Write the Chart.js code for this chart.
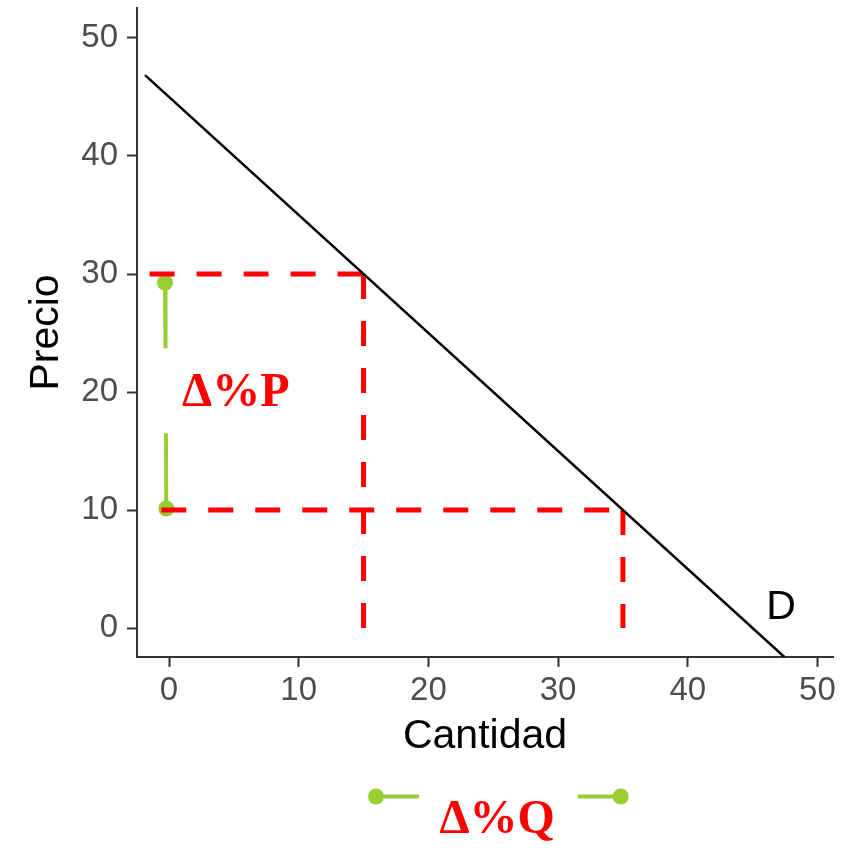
<!DOCTYPE html>
<html>
<head>
<meta charset="utf-8">
<script src="https://cdn.jsdelivr.net/npm/chart.js@4.4.1/dist/chart.umd.min.js"></script>
<style>
  html, body { margin: 0; padding: 0; background: #ffffff; }
  canvas { display: block; }
</style>
</head>
<body>
<canvas id="demandChart" width="846" height="848"></canvas>
<script>
// datos de la curva de demanda
const demandQ = [-1.85, 47.45];
const demandP = [46.85, -2.45];

// lineas punteadas rojas (precio 30 y 10)
const dashTopQ = [-1.5, 15];
const dashTopP = [30, 30];
const dashLeftQ = [15, 15];
const dashLeftP = [30, 0];
const dashLowQ = [-0.6, 35];
const dashLowP = [10, 10];
const dashRightQ = [35, 35];
const dashRightP = [10, 0];

// flechas verdes
const arrowPUpQ = [-0.31, -0.27];
const arrowPUpP = [29.27, 23.7];
const arrowPDownQ = [-0.24, -0.21];
const arrowPDownP = [16.5, 10.13];
const arrowQLeftQ = [15.96, 19.28];
const arrowQRightQ = [31.53, 34.83];
const arrowQP = [-14.27, -14.27];

// etiquetas
const labelText = ["Δ%P", "Δ%Q", "D"];
const labelQ = [5.15, 25.3, 47.2];
const labelP = [19.9, -16.3, 1.75];

const xTicks = [0, 10, 20, 30, 40, 50];
const yTicks = [0, 10, 20, 30, 40, 50];

const RED = "#FF0000";
const GREEN = "#9ACD32";

function toPoints(xs, ys) {
  return xs.map((x, i) => ({ x: x, y: ys[i] }));
}

function dashed(xs, ys) {
  return {
    data: toPoints(xs, ys),
    showLine: true,
    borderColor: RED,
    borderWidth: 5,
    borderDash: [25, 22],
    borderCapStyle: "butt",
    pointRadius: 0,
    clip: false,
  };
}

function green(xs, ys, radii) {
  return {
    data: toPoints(xs, ys),
    showLine: true,
    borderColor: GREEN,
    borderWidth: 4,
    borderCapStyle: "butt",
    pointRadius: radii,
    pointBackgroundColor: GREEN,
    pointBorderWidth: 0,
    clip: false,
  };
}

// textos dentro y fuera del panel + puntos fuera del area
const labelPlugin = {
  id: "labels",
  afterDatasetsDraw(chart) {
    const ctx = chart.ctx;
    const xs = chart.scales.x;
    const ys = chart.scales.y;
    ctx.save();
    // los puntos bajo el eje no se dibujan solos (fuera del chartArea)
    [7, 8].forEach((i) => {
      chart.getDatasetMeta(i).data.forEach((p) => p.draw(ctx));
    });
    ctx.textAlign = "center";
    ctx.textBaseline = "middle";
    labelText.forEach((t, i) => {
      const px = xs.getPixelForValue(labelQ[i]);
      const py = ys.getPixelForValue(labelP[i]);
      if (t === "D") {
        ctx.fillStyle = "#000000";
        ctx.font = "41px 'Liberation Sans', Arial, sans-serif";
      } else {
        ctx.fillStyle = RED;
        ctx.font = "bold 48px 'Liberation Serif', 'Times New Roman', serif";
      }
      ctx.fillText(t, px, py);
    });
    ctx.restore();
  },
};

const ctx = document.getElementById("demandChart").getContext("2d");
new Chart(ctx, {
  type: "scatter",
  data: {
    datasets: [
      {
        data: toPoints(demandQ, demandP),
        showLine: true,
        borderColor: "#000000",
        borderWidth: 2.5,
        pointRadius: 0,
      },
      dashed(dashTopQ, dashTopP),
      dashed(dashLeftQ, dashLeftP),
      dashed(dashLowQ, dashLowP),
      dashed(dashRightQ, dashRightP),
      green(arrowPUpQ, arrowPUpP, [8, 0]),
      green(arrowPDownQ, arrowPDownP, [0, 8]),
      green(arrowQLeftQ, arrowQP, [8, 0]),
      green(arrowQRightQ, arrowQP, [0, 8]),
    ],
  },
  options: {
    responsive: false,
    animation: false,
    devicePixelRatio: 1,
    layout: {
      padding: { left: 0, top: 7, right: 13, bottom: 0 },
    },
    plugins: {
      legend: { display: false },
      tooltip: { enabled: false },
      title: { display: false },
    },
    scales: {
      x: {
        type: "linear",
        min: -2.47,
        max: 51.2,
        afterBuildTicks: (s) => {
          s.ticks = xTicks.map((v) => ({ value: v }));
        },
        afterFit: (s) => {
          s.height = 191;
          s.paddingLeft = 0;
          s.paddingRight = 0;
        },
        border: { display: true, color: "#333333", width: 2 },
        grid: {
          display: true,
          drawOnChartArea: false,
          drawTicks: true,
          tickLength: 10,
          tickWidth: 2,
          tickColor: "#333333",
        },
        ticks: {
          color: "#4D4D4D",
          padding: 4,
          maxRotation: 0,
          font: { family: "'Liberation Sans', Arial, sans-serif", size: 33 },
        },
        title: {
          display: true,
          text: "Cantidad",
          color: "#000000",
          padding: { top: 0, bottom: 87 },
          font: { family: "'Liberation Sans', Arial, sans-serif", size: 41 },
        },
      },
      y: {
        type: "linear",
        min: -2.45,
        max: 52.54,
        afterBuildTicks: (s) => {
          s.ticks = yTicks.map((v) => ({ value: v }));
        },
        afterFit: (s) => {
          s.width = 137;
          s.paddingTop = 0;
          s.paddingBottom = 0;
        },
        border: { display: true, color: "#333333", width: 2 },
        grid: {
          display: true,
          drawOnChartArea: false,
          drawTicks: true,
          tickLength: 10,
          tickWidth: 2,
          tickColor: "#333333",
        },
        ticks: {
          color: "#4D4D4D",
          padding: 9,
          font: { family: "'Liberation Sans', Arial, sans-serif", size: 33 },
        },
        title: {
          display: true,
          text: "Precio",
          color: "#000000",
          padding: { top: 22, bottom: 0 },
          font: { family: "'Liberation Sans', Arial, sans-serif", size: 41 },
        },
      },
    },
  },
  plugins: [labelPlugin],
});
</script>
</body>
</html>
